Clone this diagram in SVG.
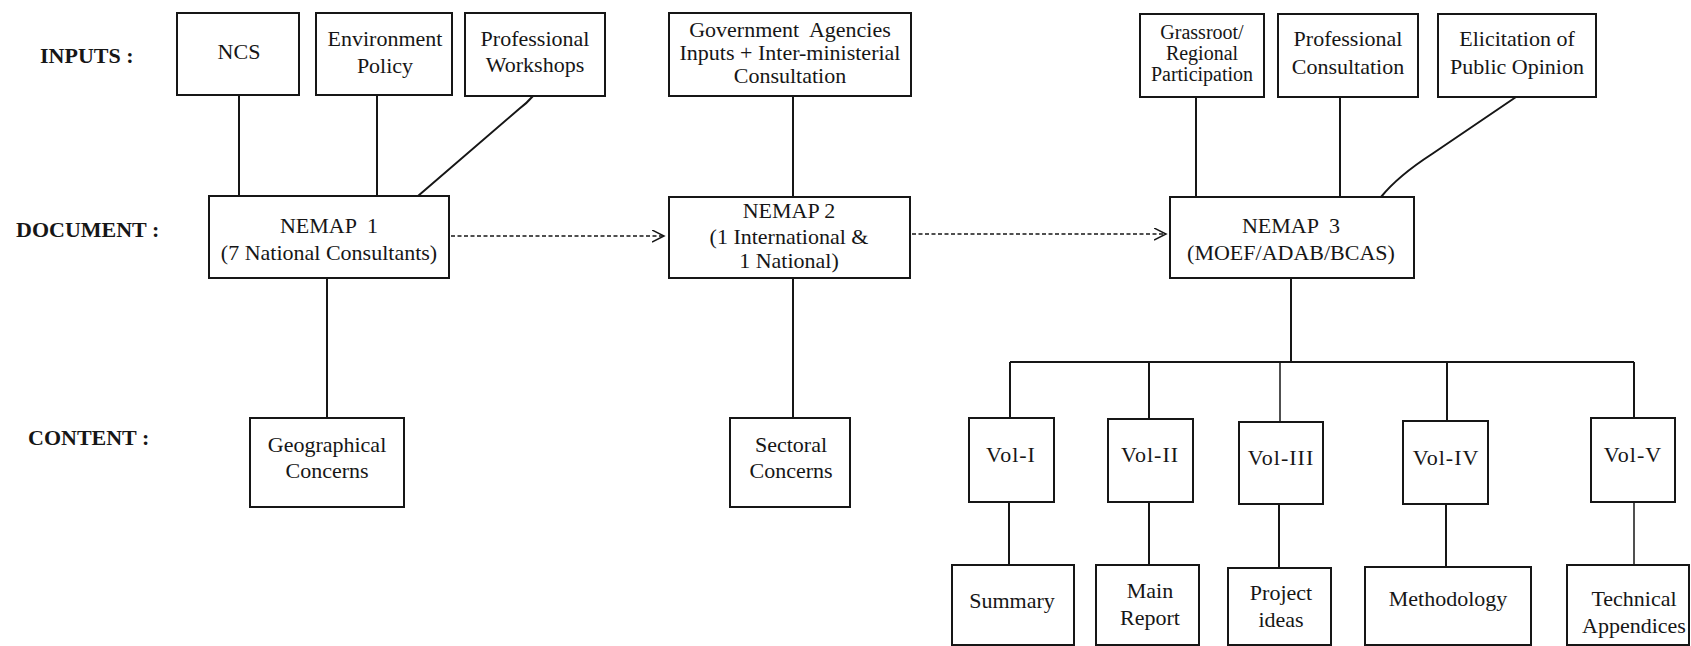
<svg xmlns="http://www.w3.org/2000/svg" width="1691" height="646" viewBox="0 0 1691 646">
  <style>
    .bg { fill: #ffffff; }
    .box { fill: #ffffff; stroke: #161616; stroke-width: 2; }
    .t { font-family: "Liberation Serif", "Times New Roman", serif; font-size: 22px; fill: #161616; text-anchor: middle; }
    .tight { font-size: 20px; }
    .lbl { font-family: "Liberation Serif", "Times New Roman", serif; font-size: 22px; font-weight: bold; fill: #161616; }
    .vol { letter-spacing: 1px; }
    .link { fill: none; stroke: #161616; stroke-width: 2; }
    .thin { stroke-width: 1.5; }
    .dash { fill: none; stroke: #161616; stroke-width: 1.4; stroke-dasharray: 4 2.5; }
  </style>
  <defs>
    <marker id="chevron" markerUnits="userSpaceOnUse" markerWidth="14" markerHeight="14" refX="12" refY="6" orient="auto">
      <path d="M0,0 L12,6 L0,12" fill="none" stroke="#161616" stroke-width="1.5" stroke-dasharray="none"/>
    </marker>
  </defs>

  <rect class="bg" x="0" y="0" width="1691" height="646"/>

  <!-- row labels -->
  <g id="row-labels">
    <text class="lbl" x="40" y="63">INPUTS :</text>
    <text class="lbl" x="16" y="237">DOCUMENT :</text>
    <text class="lbl" x="28" y="445">CONTENT :</text>
  </g>

  <!-- connectors -->
  <g id="connectors">
    <path class="link" d="M239,95 V196"/>
    <path class="link" d="M377,95 V196"/>
    <path class="link" d="M533,96 Q527,103 519,109 L418,196"/>
    <path class="link" d="M793,96 V197"/>
    <path class="link" d="M327,278 V418"/>
    <path class="link" d="M793,278 V418"/>
    <path class="dash" d="M451,236 H664" marker-end="url(#chevron)"/>
    <path class="dash" d="M912,234 H1166" marker-end="url(#chevron)"/>
    <path class="link" d="M1196,97 V197"/>
    <path class="link" d="M1340,97 V197"/>
    <path class="link" d="M1516,97 L1432,154 Q1398,176 1381,197"/>
    <path class="link" d="M1291,278 V362"/>
    <path class="link" d="M1010,362 H1634"/>
    <path class="link" d="M1010,362 V418"/>
    <path class="link" d="M1149,362 V419"/>
    <path class="link thin" d="M1280,362 V422"/>
    <path class="link" d="M1447,362 V421"/>
    <path class="link" d="M1634,362 V418"/>
    <path class="link" d="M1009,502 V565"/>
    <path class="link" d="M1149,502 V565"/>
    <path class="link" d="M1279,504 V568"/>
    <path class="link" d="M1446,504 V567"/>
    <path class="link thin" d="M1634,502 V565"/>
  </g>

  <!-- inputs -->
  <g id="ncs">
    <rect class="box" x="177" y="13" width="122" height="82"/>
    <text class="t" x="239" y="59">NCS</text>
  </g>
  <g id="environment-policy">
    <rect class="box" x="316" y="13" width="136" height="82"/>
    <text class="t" x="385" y="46">Environment</text>
    <text class="t" x="385" y="73">Policy</text>
  </g>
  <g id="professional-workshops">
    <rect class="box" x="465" y="13" width="140" height="83"/>
    <text class="t" x="535" y="46">Professional</text>
    <text class="t" x="535" y="72">Workshops</text>
  </g>
  <g id="government-agencies">
    <rect class="box" x="669" y="13" width="242" height="83"/>
    <text class="t" x="790" y="37" xml:space="preserve">Government  Agencies</text>
    <text class="t" x="790" y="60">Inputs + Inter-ministerial</text>
    <text class="t" x="790" y="83">Consultation</text>
  </g>
  <g id="grassroot-participation">
    <rect class="box" x="1140" y="14" width="124" height="83"/>
    <text class="t tight" x="1202" y="39">Grassroot/</text>
    <text class="t tight" x="1202" y="60">Regional</text>
    <text class="t tight" x="1202" y="81">Participation</text>
  </g>
  <g id="professional-consultation">
    <rect class="box" x="1278" y="14" width="140" height="83"/>
    <text class="t" x="1348" y="46">Professional</text>
    <text class="t" x="1348" y="74">Consultation</text>
  </g>
  <g id="public-opinion">
    <rect class="box" x="1438" y="14" width="158" height="83"/>
    <text class="t" x="1517" y="46">Elicitation of</text>
    <text class="t" x="1517" y="74">Public Opinion</text>
  </g>

  <!-- documents -->
  <g id="nemap-1">
    <rect class="box" x="209" y="196" width="240" height="82"/>
    <text class="t" x="329" y="233" xml:space="preserve">NEMAP  1</text>
    <text class="t" x="329" y="260">(7 National Consultants)</text>
  </g>
  <g id="nemap-2">
    <rect class="box" x="669" y="197" width="241" height="81"/>
    <text class="t" x="789" y="218">NEMAP 2</text>
    <text class="t" x="789" y="244">(1 International &amp;</text>
    <text class="t" x="789" y="268">1 National)</text>
  </g>
  <g id="nemap-3">
    <rect class="box" x="1170" y="197" width="244" height="81"/>
    <text class="t" x="1291" y="233" xml:space="preserve">NEMAP  3</text>
    <text class="t" x="1291" y="260">(MOEF/ADAB/BCAS)</text>
  </g>

  <!-- contents -->
  <g id="geographical-concerns">
    <rect class="box" x="250" y="418" width="154" height="89"/>
    <text class="t" x="327" y="452">Geographical</text>
    <text class="t" x="327" y="478">Concerns</text>
  </g>
  <g id="sectoral-concerns">
    <rect class="box" x="730" y="418" width="120" height="89"/>
    <text class="t" x="791" y="452">Sectoral</text>
    <text class="t" x="791" y="478">Concerns</text>
  </g>

  <!-- volumes -->
  <g id="vol-1">
    <rect class="box" x="969" y="418" width="85" height="84"/>
    <text class="t vol" x="1011" y="462">Vol-I</text>
  </g>
  <g id="vol-2">
    <rect class="box" x="1108" y="419" width="85" height="83"/>
    <text class="t vol" x="1150" y="462">Vol-II</text>
  </g>
  <g id="vol-3">
    <rect class="box" x="1239" y="422" width="84" height="82"/>
    <text class="t vol" x="1281" y="465">Vol-III</text>
  </g>
  <g id="vol-4">
    <rect class="box" x="1403" y="421" width="85" height="83"/>
    <text class="t vol" x="1446" y="465">Vol-IV</text>
  </g>
  <g id="vol-5">
    <rect class="box" x="1591" y="418" width="84" height="84"/>
    <text class="t vol" x="1633" y="462">Vol-V</text>
  </g>

  <!-- volume contents -->
  <g id="summary">
    <rect class="box" x="952" y="565" width="122" height="80"/>
    <text class="t" x="1012" y="608">Summary</text>
  </g>
  <g id="main-report">
    <rect class="box" x="1096" y="565" width="103" height="80"/>
    <text class="t" x="1150" y="598">Main</text>
    <text class="t" x="1150" y="625">Report</text>
  </g>
  <g id="project-ideas">
    <rect class="box" x="1228" y="568" width="103" height="77"/>
    <text class="t" x="1281" y="600">Project</text>
    <text class="t" x="1281" y="627">ideas</text>
  </g>
  <g id="methodology">
    <rect class="box" x="1365" y="567" width="166" height="78"/>
    <text class="t" x="1448" y="606">Methodology</text>
  </g>
  <g id="technical-appendices">
    <rect class="box" x="1567" y="565" width="122" height="80"/>
    <text class="t" x="1634" y="606">Technical</text>
    <text class="t" x="1634" y="633">Appendices</text>
  </g>
</svg>
